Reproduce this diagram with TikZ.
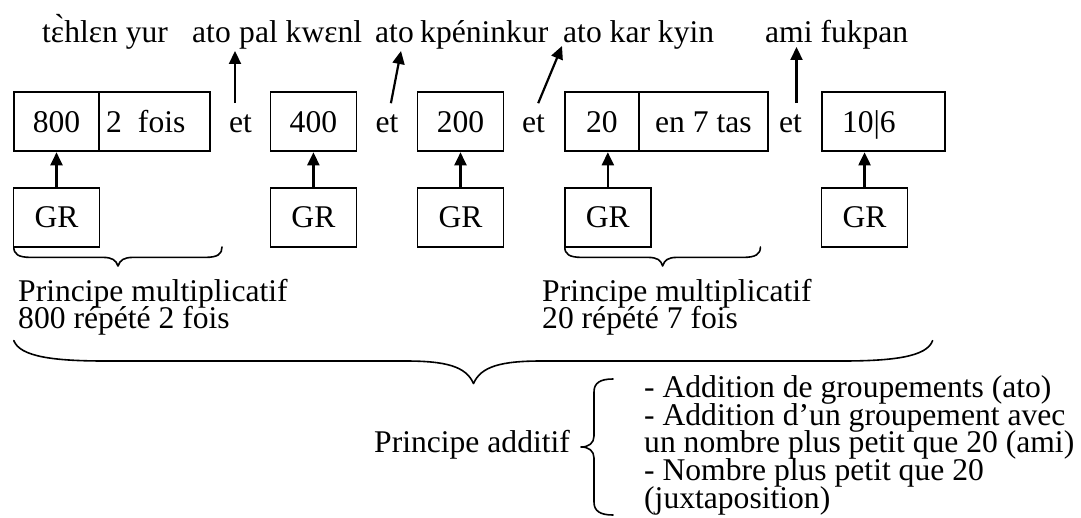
\documentclass[tikz,border=0pt]{standalone}
\usepackage{fontspec}
\setmainfont{Liberation Serif}
\usetikzlibrary{arrows.meta}
\begin{document}
\begin{tikzpicture}[x=1pt,y=-1pt,
  every node/.style={font=\fontsize{31.6}{27.6}\selectfont},
  box/.style={draw, line width=1.8pt, minimum height=59pt, inner sep=0pt, text height=21.4pt, text depth=0pt},
  word/.style={inner sep=0pt, anchor=base west},
  etw/.style={inner sep=0pt, outer ysep=8pt, anchor=base west, text height=21.4pt, text depth=0pt},
  arr/.style={line width=2.2pt, -{Triangle[length=13pt,width=12pt]}},
  brace/.style={line width=1.6pt, line cap=round, line join=round},
]
\useasboundingbox (0,0) rectangle (1081,518);

% top words
\node[word] (w1) at (42,43) {tɛ̀hlɛn yur};
\node[word] (w2) at (192,43) {ato};
\node[word] (w3) at (239,43) {pal kwɛnl};
\node[word] (w4) at (375,43) {ato};
\node[word] (w5) at (420,43) {kpéninkur};
\node[word] (w6) at (563,43) {ato kar kyin};
\node[word] (w7) at (765,43) {ami fukpan};

% first row of boxes
\node[box, minimum width=85.4pt] (b800) at (56.5,121.9) {800};
\node[box, minimum width=110.9pt, inner xsep=7pt] (b2f) at (154.65,121.9) {\makebox[96.9pt][l]{2\hspace{16pt}fois}};
\node[box, minimum width=86pt] (b400) at (313.4,121.9) {400};
\node[box, minimum width=86pt] (b200) at (460.5,121.9) {200};
\node[box, minimum width=74pt] (b20) at (601.8,121.9) {20};
\node[box, minimum width=129.2pt] (b7) at (703.4,121.9) {en 7 tas};
\node[box, minimum width=122.9pt, inner xsep=20.3pt] (b106) at (883.15,121.9) {\makebox[82.3pt][l]{10|6}};

% et
\node[etw] (et1) at (229,132.6) {et};
\node[etw] (et2) at (375.3,132.6) {et};
\node[etw] (et3) at (522,132.6) {et};
\node[etw] (et4) at (779,132.6) {et};

% GR boxes
\node[box, minimum width=86pt] (gr1) at (56.5,217.25) {GR};
\node[box, minimum width=86pt] (gr2) at (313.4,217.25) {GR};
\node[box, minimum width=86pt] (gr3) at (460.5,217.25) {GR};
\node[box, minimum width=86pt] (gr4) at (607.85,217.25) {GR};
\node[box, minimum width=86pt] (gr5) at (864.55,217.25) {GR};

% arrows GR -> boxes
\draw[arr] (gr1) -- (b800);
\draw[arr] (gr2) -- (b400);
\draw[arr] (gr3) -- (b200);
\draw[arr] (gr4.north) -- (gr4.north |- b20.south);
\draw[arr] (gr5.north) -- (gr5.north |- b106.south);

% arrows up to words
\coordinate (a1) at (235,51);
\coordinate (a2) at (401,51);
\coordinate (a3) at (562,46);
\coordinate (a4) at (796.5,47);
\draw[arr] (a1 |- et1.north) -- (a1);
\draw[arr] ([xshift=4pt]et2.north) -- (a2);
\draw[arr] ([xshift=4.6pt]et3.north) -- (a3);
\draw[arr] (a4 |- et4.north) -- (a4);

% small braces
\draw[brace] (13.8,247) .. controls (13.8,254) and (18,257.4) .. (31,257.4) -- (103,257.4)
  .. controls (112,257.4) and (116,260) .. (118,266) .. controls (120,260) and (124,257.4) .. (133,257.4)
  -- (205,257.4) .. controls (218,257.4) and (222,254) .. (222,247);
\draw[brace] (564.8,247) .. controls (564.8,254) and (569,257.4) .. (582,257.4) -- (648,257.4)
  .. controls (657,257.4) and (661,260) .. (662.6,266) .. controls (664.6,260) and (668,257.4) .. (677,257.4)
  -- (743,257.4) .. controls (756,257.4) and (760.4,254) .. (760.4,247);

% labels
\node[word] (pm1) at (18,301.5) {Principe multiplicatif};
\node[word] (rp1) at (18,329) {800 répété 2 fois};
\node[word] (pm2) at (542,301.5) {Principe multiplicatif};
\node[word] (rp2) at (542,329) {20 répété 7 fois};

% big brace
\draw[brace] (13.8,340.6) .. controls (20,357) and (55,361) .. (105,361) -- (405,361)
  .. controls (445,361) and (466,366) .. (473.5,383.6) .. controls (481,366) and (502,361) .. (542,361)
  -- (842,361) .. controls (892,361) and (927,357) .. (932.6,340.6);

% additive principle
\node[word] (pa) at (374,452.9) {Principe additif};
\draw[brace] (613,379) .. controls (600,379) and (594,383) .. (594,392) -- (594,436)
  .. controls (594,443) and (589,447) .. (581,447) .. controls (589,447) and (594,451) .. (594,458)
  -- (594,502) .. controls (594,511) and (600,515) .. (613,515);
\node[word] (l1) at (644,397.5) {- Addition de groupements (ato)};
\node[word] (l2) at (644,425.2) {- Addition d’un groupement avec};
\node[word] (l3) at (644,452.9) {un nombre plus petit que 20 (ami)};
\node[word] (l4) at (644,480.6) {- Nombre plus petit que 20};
\node[word] (l5) at (644,508.3) {(juxtaposition)};
\end{tikzpicture}
\end{document}
